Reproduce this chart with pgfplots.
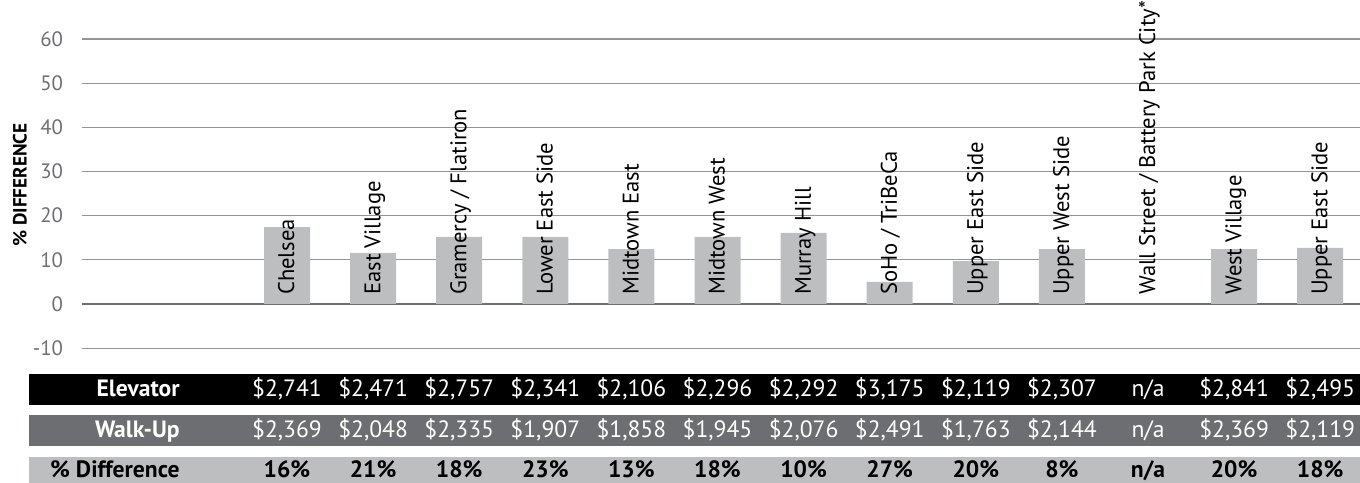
\documentclass[border=0pt]{standalone}
\usepackage{fontspec}
\setmainfont{PT Sans}
\usepackage{pgfplots}
\pgfplotsset{compat=1.18}
\usepackage{pgfplotstable}
\definecolor{barc}{HTML}{BCBEC0}
\definecolor{gridc}{HTML}{939598}
\definecolor{darkg}{HTML}{6D6E71}
\newcommand{\tablefont}{\fontsize{11.8}{13}\selectfont}
\newcommand{\labfont}{\fontsize{11.3}{13}\selectfont}

\pgfplotstableread[col sep=semicolon]{
x;val;label;elev;walk;diff
0;17.4;Chelsea;{\$2,741};{\$2,369};16\%
1;11.6;East Village;{\$2,471};{\$2,048};21\%
2;15.2;Gramercy / Flatiron;{\$2,757};{\$2,335};18\%
3;15.2;Lower East Side;{\$2,341};{\$1,907};23\%
4;12.4;Midtown East;{\$2,106};{\$1,858};13\%
5;15.2;Midtown West;{\$2,296};{\$1,945};18\%
6;16.1;Murray Hill;{\$2,292};{\$2,076};10\%
7;5.0;SoHo / TriBeCa;{\$3,175};{\$2,491};27\%
8;9.7;Upper East Side;{\$2,119};{\$1,763};20\%
9;12.4;Upper West Side;{\$2,307};{\$2,144};8\%
10;nan;Wall Street / Battery Park City*;n/a;n/a;n/a
11;12.4;West Village;{\$2,841};{\$2,369};20\%
12;12.7;Upper East Side;{\$2,495};{\$2,119};18\%
}\datatable

\begin{document}
\begin{tikzpicture}
\begin{axis}[
  x=43.05pt, y=2.2085pt,
  xmin=-2.381, xmax=12.462, ymin=-10, ymax=60,
  axis line style={draw=none},
  clip=false,
  xtick=\empty,
  ytick={-10,10,20,30,40,50,60},
  extra y ticks={0},
  extra y tick style={grid style={draw=darkg, line width=1.1pt}},
  ymajorgrids,
  grid style={draw=gridc, line width=0.6pt},
  major tick length=0pt,
  tick style={draw=none},
  /pgf/number format/assume math mode=true,
  yticklabel style={font=\fontsize{10.4}{12}\selectfont, text=darkg, xshift=-6pt},
]
\fill[black] (axis cs:-2.9965,-15.85) rectangle (axis cs:12.462,-22.87);
\fill[darkg] (axis cs:-2.9965,-25.13) rectangle (axis cs:12.462,-32.15);
\fill[barc] (axis cs:-2.9965,-34.64) rectangle (axis cs:12.462,-41.66);

\addplot[ybar, bar width=23pt, fill=barc, draw=none, forget plot] table[x=x,y=val]{\datatable};

\addplot[draw=none, forget plot, nodes near coords, point meta=explicit symbolic,
  every node near coord/.append style={rotate=90, anchor=west, inner sep=0pt, font=\labfont, text=black, text height=0.72em, text depth=0pt}]
  table[x=x, y expr=2, meta=label]{\datatable};

\addplot[draw=none, forget plot, nodes near coords, point meta=explicit symbolic,
  every node near coord/.append style={anchor=center, inner sep=0pt, font=\tablefont, text=white, text height=0.7em, text depth=0pt}]
  table[x=x, y expr=-19.36, meta=elev]{\datatable};
\addplot[draw=none, forget plot, nodes near coords, point meta=explicit symbolic,
  every node near coord/.append style={anchor=center, inner sep=0pt, font=\tablefont, text=white, text height=0.7em, text depth=0pt}]
  table[x=x, y expr=-28.64, meta=walk]{\datatable};
\addplot[draw=none, forget plot, nodes near coords, point meta=explicit symbolic,
  every node near coord/.append style={anchor=center, inner sep=0pt, font=\bfseries\tablefont, text=black, text height=0.7em, text depth=0pt}]
  table[x=x, y expr=-37.7, meta=diff]{\datatable};

\node[anchor=east, inner sep=0pt, font=\bfseries\tablefont, text=white, text height=0.7em, text depth=0pt] at (axis cs:-1.2427,-19.36) {Elevator};
\node[anchor=east, inner sep=0pt, font=\bfseries\tablefont, text=white, text height=0.7em, text depth=0pt] at (axis cs:-1.2427,-28.64) {Walk-Up};
\node[anchor=east, inner sep=0pt, font=\bfseries\tablefont, text=black, text height=0.7em, text depth=0pt] at (axis cs:-1.2427,-37.7) {\% Difference};

\node[rotate=90, inner sep=0pt, font=\bfseries\fontsize{9.6}{11}\selectfont, anchor=center] at (axis cs:-3.101,26.94) {\% DIFFERENCE};

\coordinate (bbBL) at (axis cs:-3.3333,-40.30);
\coordinate (bbTR) at (axis cs:12.462,68.82);
\end{axis}
\pgfresetboundingbox
\useasboundingbox (bbBL) rectangle (bbTR);
\end{tikzpicture}
\end{document}
